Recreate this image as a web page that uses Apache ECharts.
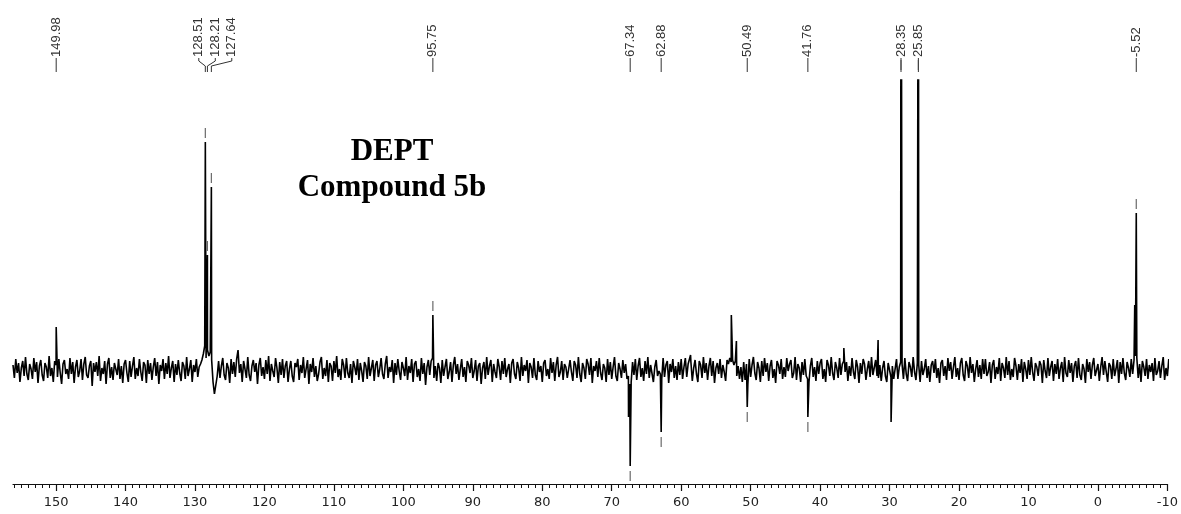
<!DOCTYPE html>
<html>
<head>
<meta charset="utf-8">
<title>DEPT Compound 5b</title>
<script src="https://cdn.jsdelivr.net/npm/echarts@6/dist/echarts.min.js"></script>
<style>
  html, body { margin: 0; padding: 0; background: #fff; }
  #chart { width: 1181px; height: 514px; }
</style>
</head>
<body>
<div id="chart"></div>
<script>
// Chemical-shift window (ppm), plotted high to low
const ppmHigh = 156.2;
const ppmLow = -10;
const sampleStep = 0.2;

// Baseline noise, one value per sample from ppmHigh downwards (20 samples = 4 ppm per row)
const baselineNoise = [
  5,-8,11,-3,7,-12,2,9,-6,13,-4,-10,6,1,-9,12,-2,8,-13,4,
  10,-5,-11,7,3,-8,14,-6,2,-12,9,5,-7,11,-3,-14,6,10,-4,1,
  -9,12,-4,8,-13,3,10,-7,-1,11,-10,6,13,-5,-8,4,9,-16,7,-2,
  8,-6,14,-11,2,-4,9,-14,6,12,-8,3,-10,7,1,-5,11,-9,4,-13,
  6,10,-3,-12,9,-7,4,13,-9,2,-6,11,-2,-11,8,5,-13,10,-4,7,
  -10,3,12,-6,8,-14,5,-1,11,-9,7,-4,14,-8,2,9,-12,6,-5,10,
  -3,-11,8,4,-9,13,-6,1,10,-12,5,-2,11,-7,3,6,10,16,24,12,
  20,14,18,10,-12,-24,-15,-6,9,-8,4,12,-5,-10,7,2,-13,11,-4,8,
  -7,11,20,-3,6,-12,9,1,-8,13,-5,-11,4,10,-2,7,-14,5,12,-6,
  3,-9,10,-4,14,-11,6,-1,-7,12,2,-13,8,-5,11,-8,4,9,-12,1,
  9,-6,-12,7,3,11,-10,5,-3,13,-8,1,10,-14,6,-2,12,-7,4,-11,
  -4,8,13,-9,2,-6,10,-12,7,4,-11,9,-3,14,-7,1,-10,11,5,-8,
  12,-3,-8,6,-13,9,3,-5,11,-10,7,-1,-12,8,4,-9,13,-6,2,10,
  -11,5,9,-7,1,12,-4,-9,6,14,-8,3,-2,10,-13,7,-5,11,-1,-10,
  8,2,-6,13,-10,4,-3,11,-12,6,9,-7,1,-11,12,-4,7,-15,3,10,
  -5,9,12,-8,4,-11,7,2,-13,10,-6,3,11,-9,-2,8,-12,5,13,-4,
  6,-10,1,11,-7,3,-12,9,5,-3,12,-8,-1,10,-11,4,7,-14,2,8,
  -9,13,-5,4,10,-12,6,-2,-8,11,3,-10,9,-4,12,-7,1,6,-13,7,
  11,-4,-9,8,2,-11,13,-6,5,-1,10,-13,7,3,-8,12,-5,-10,9,-2,
  4,-12,7,10,-6,1,-9,12,-3,8,-11,5,13,-7,-2,9,-10,6,3,-8,
  -6,10,-2,-11,9,5,-8,13,-4,-12,7,2,-9,11,6,-5,12,-13,4,-1,
  9,-7,12,-3,-10,6,2,-12,11,-5,8,-9,3,13,-6,-11,7,1,-8,10,
  -3,6,-9,-6,-14,-12,8,-5,11,-10,4,12,-7,2,-11,9,-4,13,-8,5,
  7,-12,3,10,-6,-1,-4,-9,12,-7,5,9,-13,6,-2,11,-8,4,-10,8,
  -5,11,-9,3,12,-7,6,4,8,-11,2,10,-4,-12,9,5,-8,13,-3,7,
  -10,4,12,-6,9,-13,2,7,-4,11,-8,5,-2,-11,10,6,12,8,10,5,
  9,-6,4,-9,3,-12,8,-10,6,-14,11,-7,5,13,-3,-10,8,2,-12,9,
  -6,12,-2,7,-11,4,10,-8,1,-13,9,5,-4,11,-9,3,-7,12,-1,6,
  10,-8,-3,13,-10,6,2,-12,8,-5,11,-6,-9,-12,4,12,-7,3,-11,9,
  -4,7,11,-9,1,-12,10,5,-6,13,-3,-10,8,2,-8,12,-5,6,9,-2,
  8,-11,4,-6,12,-2,-9,10,3,-13,7,-4,11,6,-10,1,9,-7,13,-5,
  -3,10,-6,-8,5,-11,2,9,-6,-12,7,6,-7,4,-9,-7,11,-9,3,8,
  6,-9,12,-4,-11,8,3,-7,13,-2,-10,7,5,-12,9,-5,1,11,-8,4,
  -12,5,9,-3,11,-8,2,-13,7,10,-6,4,-10,12,-1,8,-9,3,13,-7,
  2,-10,7,12,-5,-11,9,4,-8,13,-3,6,-12,1,10,-7,5,-9,11,-4,
  11,-6,-2,8,-13,5,10,-9,3,-4,12,-11,7,2,-8,13,-5,9,-10,1,
  -7,12,4,-10,6,-3,11,-12,8,1,-9,10,-5,13,-2,-11,7,3,-6,9,
  5,-13,10,-1,-8,12,-6,3,9,-11,6,-4,11,-9,2,8,-12,13,-3,-7,
  10,-3,7,-12,4,9,-8,12,-5,-10,6,1,-13,11,-2,8,-9,5,12,-6,
  -8,6,-11,3,13,-5,9,-2,-12,7,4,-9,11,-6,1,10,-13,8,-4,12,
  -3,-10,8,2,-7,11,-4,10,14,12,-8,6,-12,9,3,-6,11,-9,5,-2,
  7,-11,12,-5,-1,9,-8,4,13,-10,2,-6,11,-3,8,-12,6,-7,10,-4
];

// Resonances: position (ppm) and signed intensity (CH/CH3 up, CH2 down)
const peakPpm    = [149.98, 128.51, 128.21, 127.64, 95.75, 67.58, 67.34, 62.88, 58.65, 52.78, 52.05, 50.49, 41.76, 36.58, 31.65, 29.78, 28.35, 25.85, -5.30, -5.52];
const peakHeight = [43,     228,    115,    183,    55,    -47,   -96,   -62,   15,    55,    29,    -37,   -47,   22,    30,    -52,   600,   600,   65,    157];

// Picked peaks with their printed shift values
const labelPpm  = [149.98, 128.51, 128.21, 127.64, 95.75, 67.34, 62.88, 50.49, 41.76, 28.35, 25.85, -5.52];
const labelText = ['149.98', '128.51', '128.21', '127.64', '95.75', '67.34', '62.88', '50.49', '41.76', '28.35', '25.85', '-5.52'];
// Peaks carrying a pick marker at the apex
const markedPpm = [128.51, 128.21, 127.64, 95.75, 67.34, 62.88, 50.49, 41.76, 28.35, 25.85, -5.52];

// Scale ticks
const majorTicks = [150, 140, 130, 120, 110, 100, 90, 80, 70, 60, 50, 40, 30, 20, 10, 0, -10];
const minorTickStep = 1;

const titleLines = ['DEPT', 'Compound 5b'];

// Intensity window
const yMin = -114;
const yMax = 290;

// ---- assemble the trace ----
const trace = [];
baselineNoise.forEach((v, i) => {
  trace.push([+(ppmHigh - i * sampleStep).toFixed(2), v]);
});
peakPpm.forEach((p, k) => trace.push([p, peakHeight[k]]));
trace.sort((a, b) => b[0] - a[0]);

const heightAt = p => peakHeight[peakPpm.indexOf(p)];

const markerData = markedPpm.map(p => {
  const h = heightAt(p);
  const clipped = h > yMax;
  return {
    value: [p, clipped ? yMax : h],
    symbolOffset: [0, h < 0 ? 10 : (clipped ? -15 : -9)]
  };
});

const minorTicks = [];
for (let v = Math.ceil(ppmLow); v <= Math.floor(ppmHigh); v += minorTickStep) minorTicks.push(v);

const chart = echarts.init(document.getElementById('chart'), null, { renderer: 'canvas' });

const option = {
  animation: false,
  backgroundColor: '#fff',
  grid: { left: 13, right: 9, top: 80, bottom: 30, containLabel: false },
  xAxis: [
    {
      type: 'value', inverse: true, min: ppmLow, max: ppmHigh, position: 'bottom',
      axisLine: { show: true, onZero: false, lineStyle: { color: '#111', width: 1.2 } },
      axisTick: { show: true, length: 7, customValues: majorTicks, lineStyle: { color: '#111', width: 1.2 } },
      axisLabel: {
        show: true, customValues: majorTicks, margin: 12,
        fontFamily: 'DejaVu Sans', fontSize: 13, color: '#222'
      },
      splitLine: { show: false }
    },
    {
      type: 'value', inverse: true, min: ppmLow, max: ppmHigh, position: 'bottom',
      axisLine: { show: false, onZero: false },
      axisTick: { show: true, length: 4, customValues: minorTicks, lineStyle: { color: '#111', width: 1 } },
      axisLabel: { show: false },
      splitLine: { show: false }
    }
  ],
  yAxis: { type: 'value', min: yMin, max: yMax, show: false },
  series: [
    {
      type: 'line', xAxisIndex: 0, data: trace, showSymbol: false, symbol: 'none',
      sampling: null, clip: true, silent: true,
      lineStyle: { color: '#000', width: 1.6 }
    },
    {
      type: 'scatter', xAxisIndex: 0, data: markerData, symbol: 'rect', symbolSize: [1.2, 10],
      clip: false, silent: true, z: 3,
      itemStyle: { color: '#444' }
    }
  ]
};
chart.setOption(option);

// ---- peak-pick annotations across the top ----
function annotations() {
  const items = labelPpm.map((p, k) => ({
    text: labelText[k],
    px: chart.convertToPixel({ xAxisIndex: 0 }, p)
  })).sort((a, b) => a.px - b.px);

  // crowded labels are fanned out to the right of their peaks
  const sep = 16.5;
  const groups = [];
  items.forEach(it => {
    const g = groups[groups.length - 1];
    if (g && it.px - g[g.length - 1].px < sep) g.push(it);
    else groups.push([it]);
  });
  groups.forEach(g => {
    const centre = g.reduce((s, it) => s + it.px, 0) / g.length + (g.length > 1 ? sep * 0.44 : 0);
    g.forEach((it, j) => { it.lx = g.length > 1 ? centre + (j - (g.length - 1) / 2) * sep : it.px; });
  });

  const els = [];
  items.forEach(it => {
    els.push({
      type: 'text', x: it.lx, y: 57, rotation: Math.PI / 2, silent: true,
      style: {
        text: it.text, fill: '#333', fontSize: 13, fontFamily: 'Liberation Sans',
        align: 'left', verticalAlign: 'middle'
      }
    });
    const pts = Math.abs(it.lx - it.px) < 0.5
      ? [[it.px, 58], [it.px, 72]]
      : [[it.lx, 58], [it.lx, 61], [it.px, 66], [it.px, 72]];
    els.push({
      type: 'polyline', silent: true,
      shape: { points: pts },
      style: { stroke: '#333', lineWidth: 1, fill: null }
    });
  });

  titleLines.forEach((t, k) => {
    els.push({
      type: 'text', x: 392, y: 152 + k * 36, silent: true,
      style: {
        text: t, fill: '#000', fontSize: 31, fontWeight: 'bold',
        fontFamily: 'Liberation Serif', align: 'center', verticalAlign: 'middle'
      }
    });
  });
  return els;
}

chart.setOption({ graphic: { elements: annotations() } });
</script>
</body>
</html>
